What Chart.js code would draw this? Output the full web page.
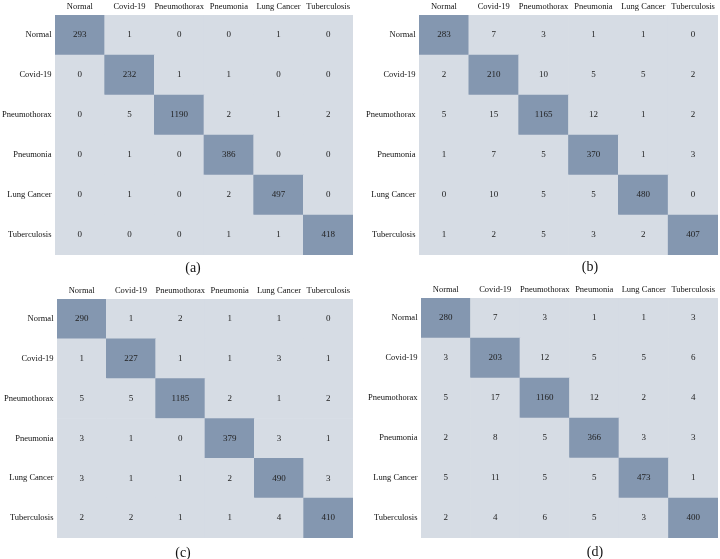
<!DOCTYPE html>
<html>
<head>
<meta charset="utf-8">
<script src="https://cdn.jsdelivr.net/npm/chart.js@4/dist/chart.umd.min.js"></script>
<style>
  body { margin: 0; background: #fff; }
  #page { position: relative; width: 720px; height: 559px; overflow: hidden; }
  canvas { position: absolute; }
  .caption { position: absolute; font: 14px "Liberation Serif", serif; color: #111; transform: translate(-50%, -50%); }
</style>
</head>
<body>
<div id="page">
  <canvas id="cm-a" width="360" height="280" style="left:0;top:0"></canvas>
  <canvas id="cm-b" width="360" height="280" style="left:360px;top:0"></canvas>
  <canvas id="cm-c" width="360" height="279" style="left:0;top:280px"></canvas>
  <canvas id="cm-d" width="360" height="279" style="left:360px;top:280px"></canvas>
  <div class="caption" style="left:193px;top:268px">(a)</div>
  <div class="caption" style="left:590px;top:267px">(b)</div>
  <div class="caption" style="left:183px;top:553px">(c)</div>
  <div class="caption" style="left:595px;top:552px">(d)</div>
</div>
<script>
// class names, used for both rows (true) and columns (predicted)
var classes = ['Normal', 'Covid-19', 'Pneumothorax', 'Pneumonia', 'Lung Cancer', 'Tuberculosis'];

var matrixA = [
    [293, 1, 0, 0, 1, 0],
    [0, 232, 1, 1, 0, 0],
    [0, 5, 1190, 2, 1, 2],
    [0, 1, 0, 386, 0, 0],
    [0, 1, 0, 2, 497, 0],
    [0, 0, 0, 1, 1, 418]
];
var matrixB = [
    [283, 7, 3, 1, 1, 0],
    [2, 210, 10, 5, 5, 2],
    [5, 15, 1165, 12, 1, 2],
    [1, 7, 5, 370, 1, 3],
    [0, 10, 5, 5, 480, 0],
    [1, 2, 5, 3, 2, 407]
];
var matrixC = [
    [290, 1, 2, 1, 1, 0],
    [1, 227, 1, 1, 3, 1],
    [5, 5, 1185, 2, 1, 2],
    [3, 1, 0, 379, 3, 1],
    [3, 1, 1, 2, 490, 3],
    [2, 2, 1, 1, 4, 410]
];
var matrixD = [
    [280, 7, 3, 1, 1, 3],
    [3, 203, 12, 5, 5, 6],
    [5, 17, 1160, 12, 2, 4],
    [2, 8, 5, 366, 3, 3],
    [5, 11, 5, 5, 473, 1],
    [2, 4, 6, 5, 3, 400]
];

var diagColor = '#8497b0';
var offColor = '#d6dce4';
var serif = '"Liberation Serif", "Times New Roman", serif';

// writes the count in the middle of every cell
var cellText = {
    id: 'cellText',
    afterDatasetsDraw: function(chart) {
        var ctx = chart.ctx;
        var meta = chart.getDatasetMeta(0);
        var ds = chart.data.datasets[0];
        ctx.save();
        ctx.font = '9px ' + serif;
        ctx.fillStyle = '#222';
        ctx.textAlign = 'center';
        ctx.textBaseline = 'middle';
        meta.data.forEach(function(bar, i) {
            ctx.fillText(ds.data[i].v, bar.x, (bar.y + bar.base) / 2);
        });
        ctx.restore();
    }
};

function drawMatrix(id, matrix, box) {
    var points = [], colors = [];
    for (var r = 0; r < matrix.length; r++) {
        for (var c = 0; c < matrix[r].length; c++) {
            points.push({x: classes[c], y: [r, r + 1], v: matrix[r][c]});
            colors.push(r == c ? diagColor : offColor);
        }
    }
    var canvas = document.getElementById(id);
    new Chart(canvas, {
        type: 'bar',
        data: {
            labels: classes,
            datasets: [{
                data: points,
                backgroundColor: colors,
                borderWidth: 0,
                barPercentage: 1,
                categoryPercentage: 1
            }]
        },
        options: {
            responsive: false,
            animation: false,
            devicePixelRatio: 1,
            layout: {
                padding: {left: 0, top: 0, right: canvas.width - box.right, bottom: canvas.height - box.bottom}
            },
            plugins: { legend: { display: false }, tooltip: { enabled: false } },
            scales: {
                x: {
                    type: 'category',
                    position: 'top',
                    offset: true,
                    grid: { display: false, drawTicks: false },
                    border: { display: false },
                    ticks: { color: '#111', font: { family: serif, size: 8.5 }, padding: 3, maxRotation: 0, autoSkip: false },
                    afterFit: function(axis) { axis.height = box.top; }
                },
                y: {
                    type: 'linear',
                    reverse: true,
                    min: 0,
                    max: 6,
                    grid: { display: false, drawTicks: false },
                    border: { display: false },
                    afterBuildTicks: function(axis) {
                        axis.ticks = classes.map(function(name, i) { return {value: i + 0.5}; });
                    },
                    ticks: {
                        color: '#111',
                        font: { family: serif, size: 8.5 },
                        padding: 3.5,
                        callback: function(value) { return classes[Math.floor(value)]; }
                    },
                    afterFit: function(axis) { axis.width = box.left; }
                }
            }
        },
        plugins: [cellText]
    });
}

drawMatrix('cm-a', matrixA, {left: 55, top: 15, right: 353, bottom: 255});
drawMatrix('cm-b', matrixB, {left: 59, top: 15, right: 358, bottom: 255});
drawMatrix('cm-c', matrixC, {left: 57, top: 19, right: 353, bottom: 258});
drawMatrix('cm-d', matrixD, {left: 61, top: 18, right: 358, bottom: 258});
</script>
</body>
</html>
